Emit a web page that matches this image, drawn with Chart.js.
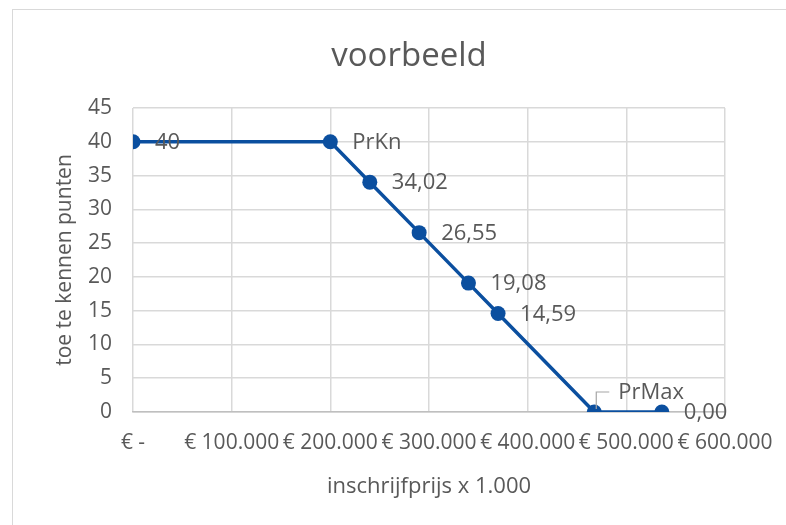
<!DOCTYPE html>
<html>
<head>
<meta charset="utf-8">
<script src="https://cdn.jsdelivr.net/npm/chart.js@4.4.1/dist/chart.umd.min.js"></script>
<style>
  html, body { margin: 0; padding: 0; background: #ffffff; }
  #wrap { position: relative; width: 786px; height: 525px; overflow: hidden; }
  #frame { position: absolute; left: 12px; top: 9px; width: 800px; height: 600px;
           border-left: 1px solid #d9d9d9; border-top: 1px solid #d9d9d9; }
  canvas { position: absolute; left: 0; top: 0; }
</style>
</head>
<body>
<div id="wrap">
  <div id="frame"></div>
  <canvas id="c" width="786" height="525"></canvas>
</div>
<script>
// ---- data ----
const chartTitle = 'voorbeeld';
const prices = [0, 200000, 240000, 290000, 340000, 370000, 467500, 536000];
const points = [40, 40, 34.02, 26.55, 19.08, 14.59, 0, 0];
const pointLabels = ['40', 'PrKn', '34,02', '26,55', '19,08', '14,59', 'PrMax', '0,00'];
const xTickValues = [0, 100000, 200000, 300000, 400000, 500000, 600000];
const xTickLabels = ['€ -', '€ 100.000', '€ 200.000', '€ 300.000', '€ 400.000', '€ 500.000', '€ 600.000'];

const TEXT = '#595959';
const BLUE = '#0b4f9f';
const FONT = "'Open Sans', sans-serif";

const titlePlugin = {
  id: 'customTitle',
  afterDraw(chart) {
    const ctx = chart.ctx;
    ctx.save();
    ctx.font = '33px ' + FONT;
    ctx.fillStyle = TEXT;
    ctx.textAlign = 'center';
    ctx.textBaseline = 'alphabetic';
    ctx.fillText(chartTitle, 409, 66);
    ctx.restore();
  }
};

const labelPlugin = {
  id: 'pointLabels',
  afterDatasetsDraw(chart) {
    const ctx = chart.ctx;
    const meta = chart.getDatasetMeta(0);
    ctx.save();
    ctx.font = '22px ' + FONT;
    ctx.fillStyle = TEXT;
    ctx.textBaseline = 'middle';
    ctx.textAlign = 'left';
    meta.data.forEach((el, i) => {
      const txt = pointLabels[i];
      if (txt === 'PrMax') {
        ctx.strokeStyle = '#a6a6a6';
        ctx.lineWidth = 1.2;
        ctx.beginPath();
        ctx.moveTo(el.x + 2, el.y - 3);
        ctx.lineTo(el.x + 2, el.y - 20);
        ctx.lineTo(el.x + 15, el.y - 20);
        ctx.stroke();
        ctx.fillText(txt, el.x + 24, el.y - 19);
      } else {
        ctx.fillText(txt, el.x + 22, el.y + 1);
      }
    });
    ctx.restore();
  }
};

new Chart(document.getElementById('c'), {
  type: 'scatter',
  data: {
    datasets: [{
      data: prices.map((p, i) => ({ x: p, y: points[i] })),
      showLine: true,
      borderColor: BLUE,
      backgroundColor: BLUE,
      borderWidth: 3.5,
      pointRadius: 7.5,
      pointHoverRadius: 7.5,
      pointBorderWidth: 0,
      tension: 0
    }]
  },
  options: {
    responsive: false,
    animation: false,
    events: [],
    layout: { padding: { left: 10, right: 61, top: 108, bottom: 0 } },
    plugins: {
      legend: { display: false },
      tooltip: { enabled: false },
      title: { display: false }
    },
    scales: {
      x: {
        type: 'linear',
        min: 0,
        max: 600000,
        afterBuildTicks(scale) { scale.ticks = xTickValues.map(v => ({ value: v })); },
        afterFit(scale) { scale.height = 113; },
        ticks: {
          color: TEXT,
          font: { family: FONT, size: 21 },
          padding: 0,
          maxRotation: 0,
          autoSkip: false,
          callback: (v) => { const i = xTickValues.indexOf(v); return i >= 0 ? xTickLabels[i] : ''; }
        },
        grid: { color: '#d9d9d9', lineWidth: 1.5, drawTicks: true, tickLength: 18, tickColor: 'rgba(0,0,0,0)' },
        border: { color: '#bfbfbf', width: 1.5 },
        title: {
          display: true,
          text: 'inschrijfprijs x 1.000',
          color: TEXT,
          font: { family: FONT, size: 22 },
          padding: { top: 0, bottom: 25 }
        }
      },
      y: {
        min: 0,
        max: 45,
        afterFit(scale) { scale.width = 123; },
        ticks: {
          stepSize: 5,
          color: TEXT,
          font: { family: FONT, size: 21 },
          padding: 21
        },
        grid: { color: '#d9d9d9', lineWidth: 1.5, drawTicks: false },
        border: { display: false },
        title: {
          display: true,
          text: 'toe te kennen punten',
          color: TEXT,
          font: { family: FONT, size: 21 },
          padding: { top: 42, bottom: 0 }
        }
      }
    }
  },
  plugins: [labelPlugin, titlePlugin]
});
</script>
</body>
</html>
